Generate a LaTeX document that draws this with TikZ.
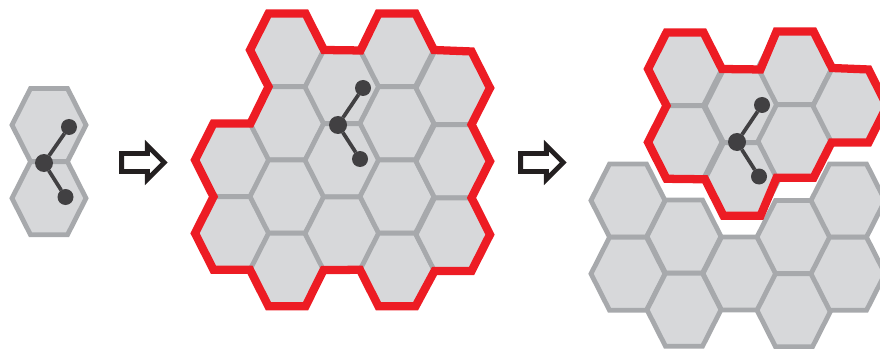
\documentclass[tikz,border=0pt]{standalone}
\usetikzlibrary{shapes.geometric,shapes.arrows}
\definecolor{cellfill}{HTML}{D7D8DA}
\definecolor{cellline}{HTML}{A7A9AC}
\definecolor{edgered}{HTML}{ED1C24}
\definecolor{atomdark}{HTML}{414042}
\definecolor{arrowdark}{HTML}{231F20}
\begin{document}
\begin{tikzpicture}[x=0.75pt, y=-0.75pt, node distance={48.2pt},
    cell/.style = {draw=cellline, fill=cellfill, line width=3.6pt, regular polygon, regular polygon sides=6, minimum size=55.5pt, inner sep=0pt, outer sep=0pt, yscale=1.14},
    rim/.style = {draw=edgered, line width=6.2pt},
    bond/.style = {draw=atomdark, line width=2.8pt},
    atom/.style = {circle, fill=atomdark, inner sep=0pt, outer sep=0pt, minimum size=12pt},
    core/.style = {atom, minimum size=13.5pt},
    stepper/.style = {draw=arrowdark, fill=white, line width=3.6pt, single arrow, single arrow head extend=6pt, minimum width=22pt, minimum height=32pt, inner sep=4.9pt, outer sep=0pt}]
  \clip (0,0) rectangle (880,349);
  % single pair
  \node[cell] (a1) at (49,125) {};
  \node[cell] (a2) [below of=a1] {};
  % middle patch
  \node[cell] (b1) at (232,160) {};
  \node[cell] (b2) [below of=b1] {};
  \node[cell] (b3) at (287,50) {};
  \node[cell] (b4) [below of=b3] {};
  \node[cell] (b5) [below of=b4] {};
  \node[cell] (b6) [below of=b5] {};
  \node[cell] (b7) at (342,87) {};
  \node[cell] (b8) [below of=b7] {};
  \node[cell] (b9) [below of=b8] {};
  \node[cell] (b10) at (397,50) {};
  \node[cell] (b11) [below of=b10] {};
  \node[cell] (b12) [below of=b11] {};
  \node[cell] (b13) [below of=b12] {};
  \node[cell] (b14) at (453,88) {};
  \node[cell] (b15) [below of=b14] {};
  \node[cell] (b16) [below of=b15] {};
  % lifted patch
  \node[cell] (c1) at (685,69) {};
  \node[cell] (c2) [below of=c1] {};
  \node[cell] (c3) at (742,106) {};
  \node[cell] (c4) [below of=c3] {};
  \node[cell] (c5) at (795,68) {};
  \node[cell] (c6) [below of=c5] {};
  \node[cell] (c7) at (850,106) {};
  % patch left behind
  \node[cell] (d1) at (628,200.5) {};
  \node[cell] (d2) [below of=d1] {};
  \node[cell] (d3) at (684,236.5) {};
  \node[cell] (d4) [below of=d3] {};
  \node[cell] (d5) at (740,273.5) {};
  \node[cell] (d6) at (794,237) {};
  \node[cell] (d7) [below of=d6] {};
  \node[cell] (d8) at (848,200.5) {};
  \node[cell] (d9) [below of=d8] {};
  % red outlines
  \draw[rim] (b3.corner 3) -- (b3.corner 2) -- (b3.corner 1) -- (b3.corner 6) -- (b7.corner 1) -- (b10.corner 2) -- (b10.corner 1) -- (b10.corner 6) -- (b14.corner 1) -- (b14.corner 6) -- (b14.corner 5) -- (b15.corner 6) -- (b15.corner 5) -- (b16.corner 6) -- (b16.corner 5) -- (b16.corner 4) -- (b13.corner 5) -- (b13.corner 4) -- (b13.corner 3) -- (b9.corner 4) -- (b6.corner 5) -- (b6.corner 4) -- (b6.corner 3) -- (b2.corner 4) -- (b2.corner 3) -- (b2.corner 2) -- (b1.corner 3) -- (b1.corner 2) -- (b1.corner 1) -- (b4.corner 2) -- cycle;
  \draw[rim] (c1.corner 3) -- (c1.corner 2) -- (c1.corner 1) -- (c1.corner 6) -- (c3.corner 1) -- (c5.corner 2) -- (c5.corner 1) -- (c5.corner 6) -- (c7.corner 1) -- (c7.corner 6) -- (c7.corner 5) -- (c7.corner 4) -- (c6.corner 5) -- (c6.corner 4) -- (c4.corner 5) -- (c4.corner 4) -- (c4.corner 3) -- (c2.corner 4) -- (c2.corner 3) -- (c2.corner 2) -- cycle;
  % molecules
  \node[core] (m1) at (44,163) {};
  \node[atom] (m2) at (69,127) {};
  \node[atom] (m3) at (65.5,197) {};
  \draw[bond] (m1) -- (m2);
  \draw[bond] (m1) -- (m3);
  \node[core] (n1) at (338,125) {};
  \node[atom] (n2) at (363,88) {};
  \node[atom] (n3) at (360,159) {};
  \draw[bond] (n1) -- (n2);
  \draw[bond] (n1) -- (n3);
  \node[core] (p1) at (737,142) {};
  \node[atom] (p2) at (762,105) {};
  \node[atom] (p3) at (759,176.5) {};
  \draw[bond] (p1) -- (p2);
  \draw[bond] (p1) -- (p3);
  % arrows
  \node[stepper] (s1) at (138.5,162.5) {};
  \node[stepper] (s2) at (537.5,162.5) {};
\end{tikzpicture}
\end{document}
